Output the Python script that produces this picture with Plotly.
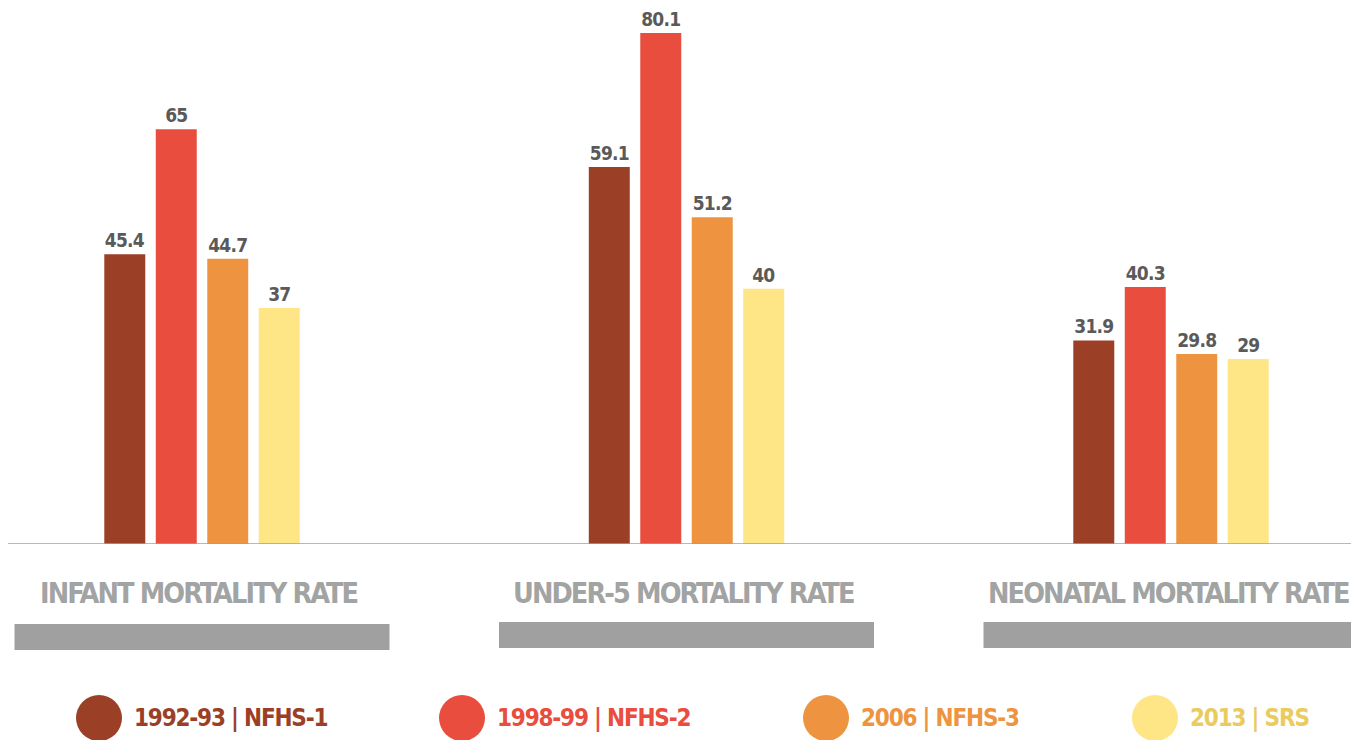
import plotly.graph_objects as go

categories = ["INFANT MORTALITY RATE", "UNDER-5 MORTALITY RATE", "NEONATAL MORTALITY RATE"]
series_names = ["1992-93 | NFHS-1", "1998-99 | NFHS-2", "2006 | NFHS-3", "2013 | SRS"]
nfhs1 = [45.4, 59.1, 31.9]
nfhs2 = [65, 80.1, 40.3]
nfhs3 = [44.7, 51.2, 29.8]
srs = [37, 40, 29]
series_values = [nfhs1, nfhs2, nfhs3, srs]

bar_colors = ["#9B3F27", "#E84D3D", "#EE9440", "#FEE585"]
legend_text_colors = ["#9B3F27", "#E84D3D", "#EE9440", "#EACB5E"]

FONT = "DejaVu Sans Condensed, Liberation Sans Narrow, Arial Narrow, sans-serif"
# page body has an 8px margin; the figure is sized/offset to compensate
OFF = 8
W, H = 1359 - OFF, 740 - OFF


def px(X):
    return X - OFF


def py(Y):
    return (H - (Y - OFF)) / H


def tight(s, ls):
    return f'<span style="letter-spacing:{ls}px">{s}</span>'


fig = go.Figure()
for name, vals, col in zip(series_names, series_values, bar_colors):
    fig.add_trace(go.Bar(
        x=categories, y=vals, name=name, marker=dict(color=col, line=dict(width=0)),
        text=[tight(f"{v:g}", -0.8) for v in vals], textposition="outside", cliponaxis=False,
        textfont=dict(family=FONT, size=19, color="#5a5a5a", weight="bold"),
        showlegend=False, hoverinfo="y+name",
    ))

# axis geometry
px_per_unit = 484.5
x0 = -px(202) / px_per_unit
x1 = x0 + W / px_per_unit
base_fig_px = 544 - OFF
y_top = base_fig_px / 6.38

shapes = []
annotations = []
# baseline
shapes.append(dict(type="line", xref="paper", yref="y", x0=0, x1=1, y0=0, y1=0,
                   line=dict(color="#a0a0a0", width=1.5), layer="above"))
# category labels and gray bars
half_bar = 375 / 2 / px_per_unit
for i, cat in enumerate(categories):
    top = 624 if i == 0 else 622
    shapes.append(dict(type="rect", xref="x", yref="paper",
                       x0=i - half_bar, x1=i + half_bar,
                       y0=py(top + 26), y1=py(top),
                       fillcolor="#9FA09F", line=dict(width=0)))
    annotations.append(dict(text=tight(cat, -1.9), xref="x", yref="paper", x=i, y=py(593),
                            xanchor="center", yanchor="middle", showarrow=False, xshift=-3,
                            font=dict(family=FONT, size=28.5, color="#a2a3a3", weight="bold")))

# legend
legend_cx = [99, 462, 826, 1155]
legend_cy = 718
r = 23
for name, cx, col, tcol in zip(series_names, legend_cx, bar_colors, legend_text_colors):
    shapes.append(dict(type="circle", xref="paper", yref="paper",
                       xsizemode="pixel", ysizemode="pixel",
                       xanchor=px(cx) / W, yanchor=py(legend_cy),
                       x0=-r, x1=r, y0=-r, y1=r,
                       fillcolor=col, line=dict(width=0)))
    annotations.append(dict(text=tight(name, -1.2), xref="paper", yref="paper",
                            x=px(cx + 33) / W, y=py(legend_cy),
                            xanchor="left", yanchor="middle", showarrow=False,
                            font=dict(family=FONT, size=24, color=tcol, weight="bold")))

fig.update_layout(
    width=W, height=H, autosize=False,
    margin=dict(l=0, r=0, t=0, b=0),
    paper_bgcolor="white", plot_bgcolor="white",
    barmode="group", bargap=0.575, bargroupgap=0.204,
    xaxis=dict(range=[x0, x1], domain=[0, 1], showticklabels=False, showgrid=False,
               zeroline=False, showline=False, ticks=""),
    yaxis=dict(range=[0, y_top], domain=[(H - base_fig_px) / H, 1], showticklabels=False,
               showgrid=False, zeroline=False, showline=False, ticks=""),
    shapes=shapes, annotations=annotations,
)

fig.write_html("out.html")
